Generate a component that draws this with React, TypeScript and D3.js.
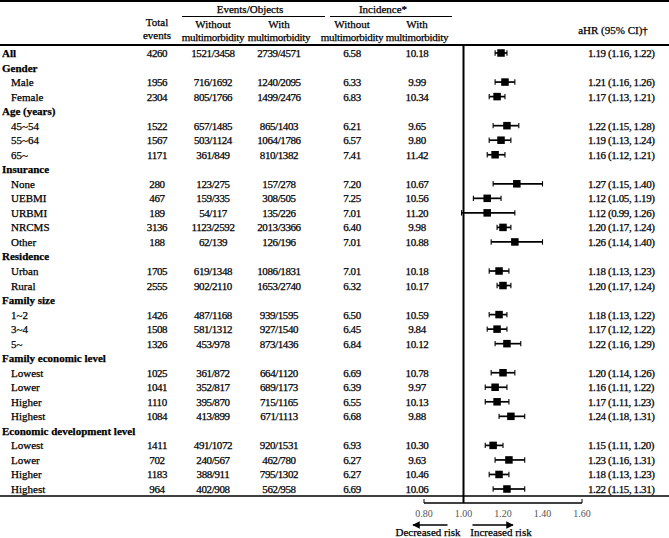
import React from "react";
import * as d3 from "d3";

const rowLabels = [
  "All", "Gender", "Male", "Female", "Age (years)", "45~54", "55~64", "65~",
  "Insurance", "None", "UEBMI", "URBMI", "NRCMS", "Other",
  "Residence", "Urban", "Rural",
  "Family size", "1~2", "3~4", "5~",
  "Family economic level", "Lowest", "Lower", "Higher", "Highest",
  "Economic development level", "Lowest", "Lower", "Higher", "Highest",
];
// true = bold heading row
const rowIsHeading = [
  true, true, false, false, true, false, false, false,
  true, false, false, false, false, false,
  true, false, false,
  true, false, false, false,
  true, false, false, false, false,
  true, false, false, false, false,
];
const totalEvents = [
  "4260", "", "1956", "2304", "", "1522", "1567", "1171",
  "", "280", "467", "189", "3136", "188",
  "", "1705", "2555",
  "", "1426", "1508", "1326",
  "", "1025", "1041", "1110", "1084",
  "", "1411", "702", "1183", "964",
];
const eventsWithout = [
  "1521/3458", "", "716/1692", "805/1766", "", "657/1485", "503/1124", "361/849",
  "", "123/275", "159/335", "54/117", "1123/2592", "62/139",
  "", "619/1348", "902/2110",
  "", "487/1168", "581/1312", "453/978",
  "", "361/872", "352/817", "395/870", "413/899",
  "", "491/1072", "240/567", "388/911", "402/908",
];
const eventsWith = [
  "2739/4571", "", "1240/2095", "1499/2476", "", "865/1403", "1064/1786", "810/1382",
  "", "157/278", "308/505", "135/226", "2013/3366", "126/196",
  "", "1086/1831", "1653/2740",
  "", "939/1595", "927/1540", "873/1436",
  "", "664/1120", "689/1173", "715/1165", "671/1113",
  "", "920/1531", "462/780", "795/1302", "562/958",
];
const incidenceWithout = [
  "6.58", "", "6.33", "6.83", "", "6.21", "6.57", "7.41",
  "", "7.20", "7.25", "7.01", "6.40", "7.01",
  "", "7.01", "6.32",
  "", "6.50", "6.45", "6.84",
  "", "6.69", "6.39", "6.55", "6.68",
  "", "6.93", "6.27", "6.27", "6.69",
];
const incidenceWith = [
  "10.18", "", "9.99", "10.34", "", "9.65", "9.80", "11.42",
  "", "10.67", "10.56", "11.20", "9.98", "10.88",
  "", "10.18", "10.17",
  "", "10.59", "9.84", "10.12",
  "", "10.78", "9.97", "10.13", "9.88",
  "", "10.30", "9.63", "10.46", "10.06",
];
const hr = [
  1.19, null, 1.21, 1.17, null, 1.22, 1.19, 1.16,
  null, 1.27, 1.12, 1.12, 1.20, 1.26,
  null, 1.18, 1.20,
  null, 1.18, 1.17, 1.22,
  null, 1.20, 1.16, 1.17, 1.24,
  null, 1.15, 1.23, 1.18, 1.22,
];
const hrLow = [
  1.16, null, 1.16, 1.13, null, 1.15, 1.13, 1.12,
  null, 1.15, 1.05, 0.99, 1.17, 1.14,
  null, 1.13, 1.17,
  null, 1.13, 1.12, 1.16,
  null, 1.14, 1.11, 1.11, 1.18,
  null, 1.11, 1.16, 1.13, 1.15,
];
const hrHigh = [
  1.22, null, 1.26, 1.21, null, 1.28, 1.24, 1.21,
  null, 1.40, 1.19, 1.26, 1.24, 1.40,
  null, 1.23, 1.24,
  null, 1.22, 1.22, 1.29,
  null, 1.26, 1.22, 1.23, 1.31,
  null, 1.20, 1.31, 1.23, 1.31,
];
const axisTicks = [0.8, 1.0, 1.2, 1.4, 1.6];

const W = 669;
const H = 538;
const FONT = "'Liberation Serif', 'Times New Roman', serif";
const FS = 11;

const colX = { label: 2, indent: 11, total: 157, evWo: 213, evW: 279, incWo: 352, incW: 417, hr: 588 };

export default function App() {
  const y = d3.scalePoint<number>().domain(d3.range(rowLabels.length)).range([53, 489]);
  const x = d3.scaleLinear().domain([0.8, 1.6]).range([424, 582]);
  const headerBottom = 45;
  const tableBottom = 496;
  const axisY = 503;
  const sq = 7.5;
  const fmt = d3.format(".2f");

  const numStyle: React.CSSProperties = { letterSpacing: "-0.4px" };
  const heavy = { stroke: "#000", strokeWidth: 0.25 };
  const mm: React.CSSProperties = { letterSpacing: "-0.3px" };

  return (
    <div style={{ position: "fixed", left: 0, top: 0, width: W, height: H, background: "#fff" }}>
      <svg width={W} height={H} style={{ display: "block" }} fontFamily={FONT} fontSize={FS} fill="#000">
        <defs>
          <marker id="arr" viewBox="0 0 10 10" refX="9" refY="5" markerWidth="5" markerHeight="5" orient="auto-start-reverse">
            <path d="M0,0 L10,5 L0,10 z" fill="#000" />
          </marker>
        </defs>
        {/* header lines */}
        <line x1={0} x2={W} y1={1} y2={1} stroke="#000" strokeWidth={2} />
        <line x1={0} x2={W} y1={headerBottom} y2={headerBottom} stroke="#000" strokeWidth={2} />
        <line x1={182} x2={325} y1={16.5} y2={16.5} stroke="#000" strokeWidth={1} />
        <line x1={330} x2={452} y1={16.5} y2={16.5} stroke="#000" strokeWidth={1} />
        <g {...heavy}>
          <text x={250} y={13} textAnchor="middle">Events/Objects</text>
          <text x={383} y={13} textAnchor="middle">Incidence*</text>
          <text x={colX.total} y={26} textAnchor="middle">Total</text>
          <text x={colX.total} y={39} textAnchor="middle">events</text>
          {[colX.evWo, colX.evW, colX.incWo, colX.incW].map((cx, i) => (
            <g key={i}>
              <text x={cx} y={28} textAnchor="middle">{i % 2 === 0 ? "Without" : "With"}</text>
              <text x={cx} y={40.5} textAnchor="middle" style={mm}>multimorbidity</text>
            </g>
          ))}
          <text x={613} y={34} textAnchor="middle">aHR (95% CI)†</text>
        </g>

        {/* rows */}
        {rowLabels.map((lab, i) => {
          const cy = y(i)!;
          const by = cy + 4;
          const head = rowIsHeading[i];
          return (
            <g key={i}>
              <g {...heavy}>
                <text x={head ? colX.label : colX.indent} y={by} fontWeight={head ? "bold" : "normal"}>{lab}</text>
                <text x={colX.total} y={by} textAnchor="middle" style={numStyle}>{totalEvents[i]}</text>
                <text x={colX.evWo} y={by} textAnchor="middle" style={numStyle}>{eventsWithout[i]}</text>
                <text x={colX.evW} y={by} textAnchor="middle" style={numStyle}>{eventsWith[i]}</text>
                <text x={colX.incWo} y={by} textAnchor="middle" style={numStyle}>{incidenceWithout[i]}</text>
                <text x={colX.incW} y={by} textAnchor="middle" style={numStyle}>{incidenceWith[i]}</text>
              </g>
              {hr[i] != null && (
                <g>
                  <line x1={x(hrLow[i] as number)} x2={x(hrHigh[i] as number)} y1={cy} y2={cy} stroke="#000" strokeWidth={1.7} />
                  <line x1={x(hrLow[i] as number)} x2={x(hrLow[i] as number)} y1={cy - 2.7} y2={cy + 2.7} stroke="#000" strokeWidth={1.1} />
                  <line x1={x(hrHigh[i] as number)} x2={x(hrHigh[i] as number)} y1={cy - 2.7} y2={cy + 2.7} stroke="#000" strokeWidth={1.1} />
                  <rect x={x(hr[i] as number) - sq / 2} y={cy - sq / 2} width={sq} height={sq} fill="#000" />
                  <text x={colX.hr} y={by} style={numStyle} {...heavy}>
                    {`${fmt(hr[i] as number)} (${fmt(hrLow[i] as number)}, ${fmt(hrHigh[i] as number)})`}
                  </text>
                </g>
              )}
            </g>
          );
        })}

        {/* bottom rule */}
        <line x1={0} x2={W} y1={tableBottom} y2={tableBottom} stroke="#000" strokeWidth={1.5} />
        {/* reference line at 1.00 */}
        <line x1={x(1)} x2={x(1)} y1={headerBottom} y2={axisY} stroke="#000" strokeWidth={2} />
        {/* axis */}
        <line x1={x(0.8)} x2={x(1.6)} y1={axisY} y2={axisY} stroke="#000" strokeWidth={1.5} />
        {axisTicks.map((t, i) => (
          <g key={t}>
            {(i === 0 || i === axisTicks.length - 1) && (
              <line x1={x(t)} x2={x(t)} y1={axisY - 4} y2={axisY} stroke="#000" strokeWidth={1} />
            )}
            <text x={x(t)} y={517} textAnchor="middle" fontSize={10} fill="#555">{fmt(t)}</text>
          </g>
        ))}
        <line x1={x(1) - 16} x2={x(0.8) - 11} y1={525} y2={525} stroke="#000" strokeWidth={1.5} markerEnd="url(#arr)" />
        <line x1={x(1) + 9} x2={x(1.2) + 10} y1={525} y2={525} stroke="#000" strokeWidth={1.5} markerEnd="url(#arr)" />
        <g {...heavy}>
          <text x={428} y={536} textAnchor="middle">Decreased risk</text>
          <text x={501} y={536} textAnchor="middle">Increased risk</text>
        </g>
      </svg>
    </div>
  );
}
